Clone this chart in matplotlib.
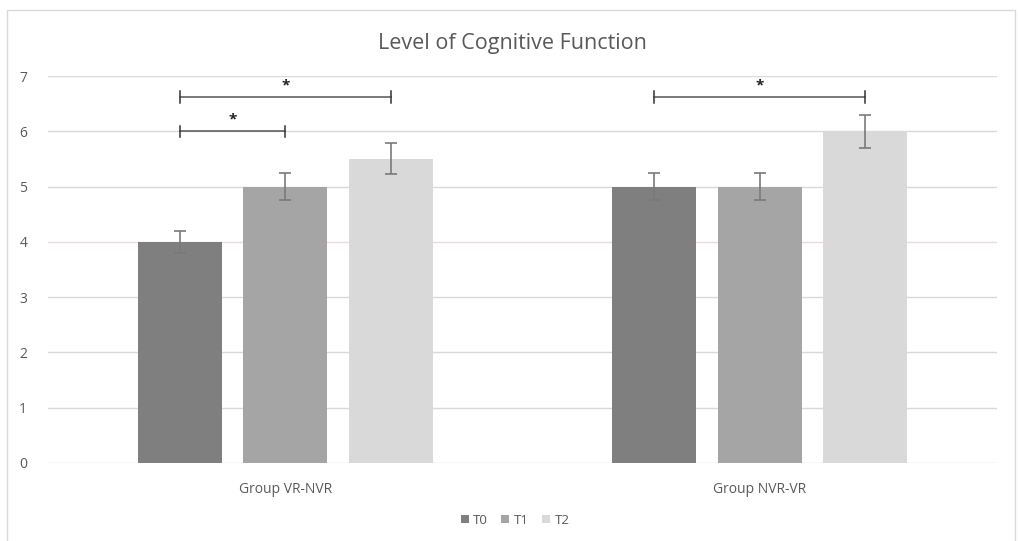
import matplotlib
matplotlib.use("Agg")
import matplotlib.pyplot as plt
from matplotlib.patches import Rectangle
import numpy as np

plt.rcParams['font.family'] = ['Open Sans', 'DejaVu Sans']

groups = ["Group VR-NVR", "Group NVR-VR"]
series = ["T0", "T1", "T2"]
means = {
    "T0": [4.0, 5.0],
    "T1": [5.0, 5.0],
    "T2": [5.5, 6.0],
}
errors = {
    "T0": [0.2, 0.25],
    "T1": [0.25, 0.25],
    "T2": [0.28, 0.3],
}
colors = {"T0": "#7f7f7f", "T1": "#a5a5a5", "T2": "#d9d9d9"}
yticks = [0, 1, 2, 3, 4, 5, 6, 7]

# significance brackets: (group index, from series, to series, height)
brackets = [
    (0, 0, 2, 6.62),
    (0, 0, 1, 6.0),
    (1, 0, 2, 6.62),
]

fig = plt.figure(figsize=(10.18, 5.41), dpi=100)
fig.patch.set_facecolor("white")
fig.add_artist(Rectangle((7 / 1018, -0.01), 1008 / 1018, 1 - 10 / 541 + 0.01,
                         transform=fig.transFigure, fill=False,
                         edgecolor="#d9d9d9", linewidth=1.0))

ax = fig.add_axes([48 / 1018, 1 - 463 / 541, 949 / 1018, (463 - 76) / 541])
ax.set_xlim(-0.5, 1.5)
ax.set_ylim(0, 7)
for s in ax.spines.values():
    s.set_visible(False)

for y in yticks:
    ax.axhline(y, color="#f0d8d8" if y == 4 else "#d9d9d9", linewidth=1.0, zorder=0)

x = np.arange(len(groups))
width = 0.177
step = 0.222
offsets = {s: (i - 1) * step for i, s in enumerate(series)}

for s in series:
    ax.bar(x + offsets[s], means[s], width, color=colors[s], label=s, zorder=2)
    ax.errorbar(x + offsets[s], means[s], yerr=errors[s], fmt="none",
                ecolor="#7a7a7a", elinewidth=1.2, capsize=4, capthick=1.2, zorder=3)

for g, a, b, h in brackets:
    x0 = g + (a - 1) * step
    x1 = g + (b - 1) * step
    ax.plot([x0, x1], [h, h], color="#555555", linewidth=1.1, zorder=4)
    ax.plot([x0, x0], [h - 0.1, h + 0.1], color="#333333", linewidth=1.1, zorder=4)
    ax.plot([x1, x1], [h - 0.1, h + 0.1], color="#333333", linewidth=1.1, zorder=4)
    ax.text((x0 + x1) / 2, h + 0.08, "*", ha="center", va="bottom",
            fontsize=11, fontweight="bold", color="#222222")

ax.set_yticks(yticks)
ax.set_yticklabels([str(v) for v in yticks], fontsize=10, color="#595959")
ax.set_xticks(x)
ax.set_xticklabels(groups, fontsize=10, color="#595959")
ax.tick_params(axis="x", length=0, pad=14)
ax.tick_params(axis="y", length=0, pad=15)

fig.text(512 / 1018, 1 - 43 / 541, "Level of Cognitive Function", ha="center",
         va="center", fontsize=15.5, color="#595959")

leg = fig.legend(loc="center", bbox_to_anchor=(515 / 1018, 1 - 520 / 541), ncol=3,
                 frameon=False, fontsize=9.5, handlelength=0.6, handleheight=0.6,
                 handletextpad=0.35, columnspacing=1.0)
for t in leg.get_texts():
    t.set_color("#595959")

fig.savefig("out.png", dpi=100, facecolor="white")
